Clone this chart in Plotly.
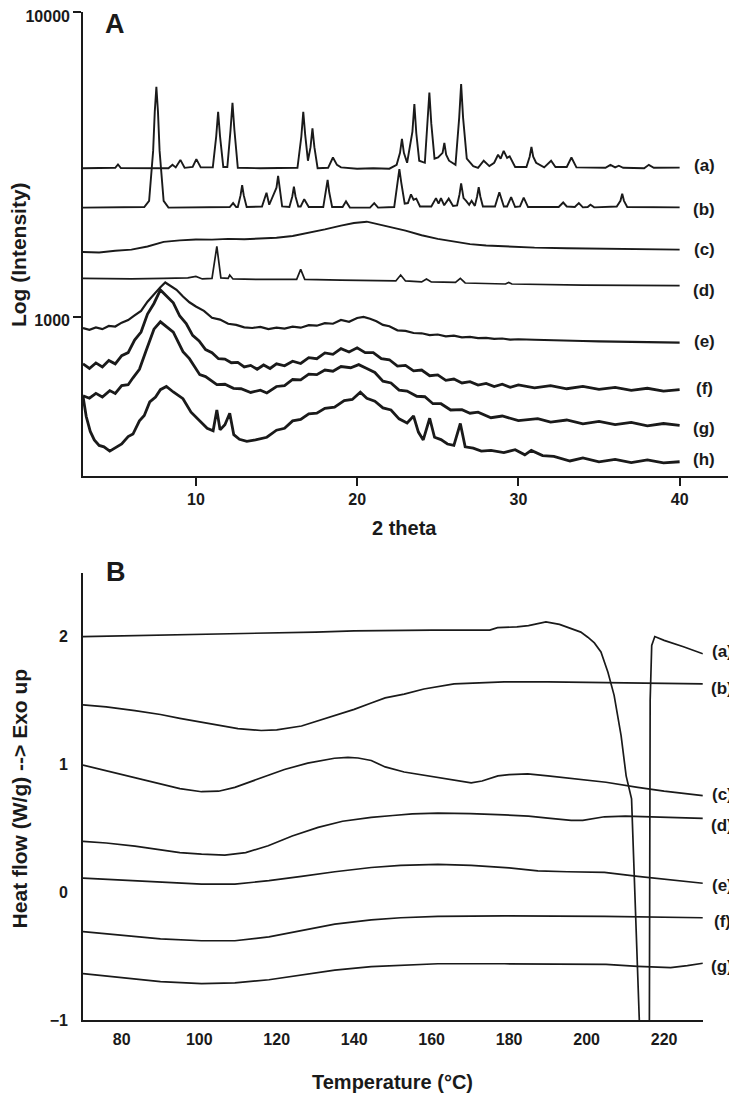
import plotly.graph_objects as go

# ---------------- Panel A: XRD (2 theta, intensity) ----------------
xrd_labels = ["(a)", "(b)", "(c)", "(d)", "(e)", "(f)", "(g)", "(h)"]

xrd_a = [(3.0, 3070), (5.0, 3080), (5.17, 3160), (5.35, 3075), (8.3, 3070), (8.55, 3150), (8.75, 3090),
         (9.04, 3270), (9.3, 3080), (9.8, 3100), (10.03, 3290), (10.3, 3090), (11.05, 3090), (11.26, 3900),
         (11.38, 4700), (11.5, 3900), (11.7, 3100), (11.95, 3100), (12.15, 4100), (12.27, 5030), (12.39, 4100),
         (12.6, 3080), (14.0, 3070), (16.3, 3080), (16.54, 3900), (16.66, 4700), (16.78, 3950), (16.95, 3250),
         (17.11, 3600), (17.23, 4150), (17.35, 3600), (17.55, 3070), (18.2, 3080), (18.5, 3330), (18.75, 3150),
         (19.0, 3090), (20.0, 3060), (21.0, 3070), (22.0, 3060), (22.45, 3150), (22.66, 3450), (22.78, 3830),
         (22.9, 3450), (23.1, 3200), (23.43, 4050), (23.55, 4990), (23.67, 4000), (23.85, 3250), (24.2, 3200),
         (24.36, 4300), (24.48, 5440), (24.6, 4300), (24.8, 3300), (25.02, 3330), (25.3, 3450), (25.41, 3720),
         (25.52, 3400), (25.7, 3250), (26.1, 3150), (26.33, 4500), (26.45, 5800), (26.57, 4500), (26.8, 3300),
         (27.2, 3120), (27.5, 3080), (27.85, 3250), (28.2, 3120), (28.5, 3200), (28.74, 3400), (28.9, 3300),
         (29.09, 3500), (29.3, 3320), (29.46, 3360), (29.8, 3100), (30.5, 3100), (30.7, 3350), (30.81, 3610),
         (30.92, 3350), (31.1, 3200), (31.6, 3090), (32.03, 3250), (32.3, 3100), (33.0, 3100), (33.29, 3330),
         (33.6, 3090), (35.4, 3080), (35.71, 3150), (36.0, 3090), (36.23, 3130), (36.5, 3080), (37.8, 3070),
         (38.09, 3150), (38.4, 3080), (40.0, 3085)]

xrd_b = [(3.0, 2280), (6.8, 2290), (7.1, 2400), (7.35, 3500), (7.45, 4700), (7.55, 5680), (7.65, 4700),
         (7.75, 3500), (8.0, 2400), (8.3, 2280), (12.1, 2290), (12.31, 2360), (12.5, 2290), (12.6, 2290),
         (12.77, 2500), (12.87, 2700), (12.97, 2500), (13.15, 2290), (14.1, 2300), (14.38, 2550), (14.55, 2330),
         (14.84, 2550), (15.0, 2650), (15.1, 2900), (15.2, 2650), (15.35, 2300), (15.8, 2290), (15.98, 2480),
         (16.08, 2670), (16.18, 2480), (16.35, 2300), (16.5, 2300), (16.72, 2430), (17.0, 2290), (17.9, 2290),
         (18.07, 2560), (18.17, 2810), (18.27, 2560), (18.45, 2290), (19.1, 2290), (19.31, 2390), (19.55, 2280),
         (20.8, 2280), (21.06, 2360), (21.3, 2280), (22.3, 2290), (22.5, 2750), (22.62, 3050), (22.74, 2750),
         (22.95, 2350), (23.15, 2360), (23.34, 2520), (23.5, 2420), (23.67, 2440), (23.9, 2300), (24.6, 2300),
         (24.89, 2450), (25.05, 2350), (25.2, 2450), (25.4, 2320), (25.68, 2440), (25.95, 2310), (26.2, 2320),
         (26.35, 2520), (26.45, 2740), (26.6, 2450), (26.76, 2400), (26.95, 2330), (27.1, 2400), (27.3, 2310),
         (27.44, 2480), (27.54, 2660), (27.64, 2480), (27.8, 2300), (28.55, 2300), (28.82, 2560), (29.1, 2300),
         (29.3, 2300), (29.55, 2470), (29.8, 2290), (30.1, 2300), (30.33, 2460), (30.6, 2290), (32.5, 2290),
         (32.78, 2370), (33.0, 2300), (33.5, 2290), (33.75, 2360), (34.0, 2285), (34.3, 2290), (34.47, 2330),
         (34.7, 2285), (36.1, 2300), (36.33, 2400), (36.44, 2530), (36.55, 2400), (36.75, 2290), (40.0, 2285)]

xrd_c = [(3.0, 1630), (4.0, 1625), (5.0, 1645), (6.0, 1660), (7.0, 1700), (8.0, 1760), (9.0, 1780),
         (10.0, 1792), (11.0, 1790), (12.0, 1800), (13.0, 1795), (14.0, 1805), (15.0, 1815), (16.0, 1840),
         (17.0, 1885), (18.0, 1935), (19.0, 1990), (19.8, 2030), (20.6, 2050), (21.4, 2010), (22.2, 1960),
         (23.0, 1915), (24.0, 1850), (25.0, 1800), (26.0, 1760), (27.0, 1730), (28.0, 1712), (29.0, 1700),
         (30.0, 1692), (31.0, 1685), (33.0, 1678), (35.0, 1672), (37.0, 1666), (40.0, 1660)]

xrd_d = [(3.0, 1335), (6.0, 1330), (8.0, 1335), (9.5, 1340), (10.0, 1355), (10.4, 1330), (11.0, 1335),
         (11.3, 1700), (11.55, 1340), (12.0, 1335), (12.1, 1370), (12.3, 1330), (14.0, 1325), (16.25, 1325),
         (16.5, 1430), (16.75, 1325), (19.0, 1318), (20.0, 1315), (22.4, 1310), (22.7, 1370), (23.0, 1310),
         (24.0, 1300), (24.3, 1330), (24.6, 1300), (26.1, 1295), (26.4, 1335), (26.7, 1290), (29.2, 1280),
         (29.4, 1295), (29.6, 1280), (34.0, 1270), (40.0, 1265)]

xrd_e = [(3.0, 918), (3.4, 906), (3.8, 922), (4.2, 910), (4.6, 932), (5.0, 928), (5.4, 956), (5.8, 975),
         (6.2, 1010), (6.6, 1045), (7.0, 1120), (7.4, 1185), (7.8, 1250), (8.1, 1295), (8.4, 1265), (8.8, 1225),
         (9.2, 1165), (9.6, 1115), (10.0, 1080), (10.5, 1045), (11.0, 992), (11.5, 978), (12.0, 948), (12.5, 940),
         (13.0, 922), (13.5, 918), (14.0, 926), (14.5, 910), (15.0, 920), (15.5, 914), (16.0, 928), (16.5, 920),
         (17.0, 938), (17.5, 934), (18.0, 952), (18.5, 948), (19.0, 975), (19.5, 962), (20.0, 990), (20.4, 998),
         (20.8, 984), (21.2, 966), (21.6, 940), (22.0, 930), (22.5, 902), (23.0, 898), (23.5, 884), (24.0, 882),
         (24.5, 870), (25.0, 874), (25.5, 862), (26.0, 866), (26.5, 855), (27.0, 858), (27.5, 850), (28.0, 852),
         (28.5, 845), (29.0, 848), (29.5, 841), (30.0, 843), (31.0, 840), (32.0, 836), (33.0, 834), (34.0, 832),
         (35.0, 830), (36.0, 828), (37.0, 826), (38.0, 825), (39.0, 823), (40.0, 822)]

xrd_f = [(3.0, 700), (3.4, 676), (3.8, 705), (4.2, 684), (4.6, 718), (5.0, 700), (5.4, 745), (5.8, 762),
         (6.2, 838), (6.6, 890), (7.0, 1020), (7.4, 1105), (7.8, 1224), (8.2, 1170), (8.6, 1110), (9.0, 1005),
         (9.4, 950), (9.8, 868), (10.2, 832), (10.6, 780), (11.0, 762), (11.4, 728), (11.8, 726), (12.2, 706),
         (12.6, 708), (13.0, 684), (13.4, 692), (13.8, 672), (14.2, 694), (14.6, 676), (15.0, 700), (15.5, 690),
         (16.0, 714), (16.5, 702), (17.0, 734), (17.5, 728), (18.0, 760), (18.5, 752), (19.0, 785), (19.5, 766),
         (20.0, 790), (20.5, 762), (21.0, 762), (21.5, 728), (22.0, 722), (22.5, 688), (23.0, 692), (23.5, 664),
         (24.0, 668), (24.5, 640), (25.0, 644), (25.5, 618), (26.0, 624), (26.5, 606), (27.0, 612), (27.5, 596),
         (28.0, 604), (28.5, 590), (29.0, 600), (29.5, 586), (30.0, 597), (31.0, 584), (32.0, 594), (33.0, 580),
         (34.0, 590), (35.0, 577), (36.0, 586), (37.0, 573), (38.0, 582), (39.0, 570), (40.0, 576)]

xrd_g = [(3.0, 550), (3.4, 540), (3.8, 560), (4.2, 545), (4.66, 572), (5.0, 560), (5.4, 594), (5.8, 598),
         (6.1, 630), (6.5, 672), (6.9, 770), (7.14, 830), (7.4, 910), (7.8, 962), (8.2, 928), (8.6, 890),
         (9.2, 768), (9.6, 728), (10.24, 645), (10.6, 636), (11.3, 598), (11.8, 600), (12.33, 582), (12.8, 580),
         (13.4, 564), (14.0, 574), (14.4, 562), (15.0, 590), (15.5, 594), (16.0, 622), (16.5, 620), (17.0, 648),
         (17.5, 645), (18.0, 668), (18.5, 662), (19.0, 686), (19.6, 680), (20.1, 696), (20.6, 676), (21.1, 656),
         (21.6, 614), (22.1, 606), (22.6, 574), (23.1, 570), (23.7, 548), (24.2, 546), (24.7, 518), (25.2, 518),
         (25.8, 494), (26.5, 495), (27.0, 482), (27.5, 486), (28.3, 466), (29.0, 472), (30.0, 456), (31.2, 463),
         (32.0, 451), (33.0, 458), (34.0, 445), (35.0, 453), (36.0, 442), (37.0, 450), (38.0, 438), (39.0, 446),
         (40.0, 440)]

xrd_h = [(3.0, 548), (3.2, 470), (3.45, 420), (3.7, 394), (4.0, 378), (4.3, 374), (4.66, 362), (5.0, 372),
         (5.4, 382), (5.8, 404), (6.1, 412), (6.5, 455), (6.8, 474), (7.14, 525), (7.5, 545), (7.8, 576),
         (8.17, 590), (8.6, 566), (9.2, 538), (9.7, 486), (10.24, 456), (10.7, 430), (11.07, 422), (11.3, 494),
         (11.5, 425), (11.8, 442), (12.1, 482), (12.35, 410), (12.7, 396), (13.16, 390), (13.7, 394), (14.4, 402),
         (15.0, 424), (15.5, 430), (16.0, 455), (16.5, 460), (17.0, 480), (17.5, 482), (18.0, 500), (18.6, 505),
         (19.2, 530), (19.7, 535), (20.2, 565), (20.6, 540), (21.1, 528), (21.6, 502), (22.1, 494), (22.6, 462),
         (23.1, 448), (23.5, 472), (23.8, 418), (24.1, 394), (24.5, 464), (24.8, 402), (25.2, 395), (25.6, 382),
         (26.0, 378), (26.4, 446), (26.7, 374), (27.2, 370), (27.7, 362), (28.3, 364), (29.1, 358), (29.8, 366),
         (30.4, 352), (30.8, 364), (31.5, 350), (32.2, 348), (33.2, 336), (34.0, 344), (35.0, 334), (36.0, 340),
         (37.0, 332), (38.0, 339), (39.0, 331), (40.0, 334)]

xrd_ticks_x = [10, 20, 30, 40]
xrd_ticks_y = [1000, 10000]

# ---------------- Panel B: DSC (temperature, heat flow) ----------------
dsc_labels = ["(a)", "(b)", "(c)", "(d)", "(e)", "(f)", "(g)"]

dsc_a = [(70, 2.0), (80, 2.005), (90, 2.01), (100, 2.015), (110, 2.02), (120, 2.03), (130, 2.035), (140, 2.045),
         (150, 2.05), (160, 2.05), (170, 2.05), (175, 2.05), (177, 2.07), (182, 2.075), (185, 2.085),
         (189.5, 2.115), (193, 2.095), (196, 2.06), (198.5, 2.035), (200.3, 1.995), (202, 1.95), (203.7, 1.88),
         (205.5, 1.72), (207.1, 1.54), (208.9, 1.225), (210.2, 0.91), (211.6, 0.73), (213.6, -1.0),
         (214.1, -1.4), (216.1, -1.4), (216.2, -1.0), (216.4, 1.5), (216.8, 1.93), (217.6, 2.0), (220, 1.97),
         (225, 1.92), (230, 1.865)]

dsc_b = [(70, 1.465), (76, 1.45), (83.4, 1.42), (90, 1.39), (95, 1.36), (100.6, 1.33), (105, 1.305), (110, 1.28),
         (116, 1.265), (120, 1.27), (126.4, 1.30), (130, 1.335), (134.9, 1.38), (140, 1.43), (144.4, 1.48),
         (148, 1.52), (152.9, 1.55), (158, 1.59), (165.8, 1.63), (172, 1.64), (178.7, 1.645), (190, 1.645),
         (204.5, 1.64), (215, 1.635), (230, 1.63)]

dsc_c = [(70, 0.995), (76, 0.95), (83.4, 0.90), (90, 0.85), (95, 0.81), (100.6, 0.786), (105, 0.79), (109.2, 0.82),
         (115, 0.885), (122, 0.96), (128, 1.01), (134.9, 1.048), (138.4, 1.055), (141, 1.05), (144.4, 1.03),
         (148, 0.98), (152.9, 0.94), (157, 0.92), (161.6, 0.90), (166, 0.875), (170.2, 0.855), (173, 0.87),
         (177.1, 0.91), (180, 0.92), (184.8, 0.925), (190, 0.91), (196, 0.89), (205, 0.86), (213.2, 0.82),
         (220, 0.79), (230, 0.755)]

dsc_d = [(70, 0.397), (76, 0.385), (83.4, 0.36), (90, 0.33), (95, 0.31), (100.6, 0.298), (106.6, 0.29), (112, 0.31),
         (117.8, 0.363), (124, 0.44), (130.7, 0.507), (137, 0.555), (144.4, 0.585), (150, 0.60), (155, 0.612),
         (161.6, 0.618), (170, 0.615), (178.8, 0.605), (185, 0.595), (190, 0.58), (194, 0.565), (196, 0.562),
         (199, 0.562), (202, 0.58), (204.6, 0.59), (210, 0.595), (215, 0.59), (222, 0.585), (230, 0.577)]

dsc_e = [(70, 0.11), (80, 0.095), (90, 0.075), (100.6, 0.063), (109.2, 0.063), (118, 0.09), (126.4, 0.123),
         (135, 0.16), (144.4, 0.193), (152, 0.21), (161.6, 0.217), (170.2, 0.21), (180, 0.19), (187.4, 0.167),
         (195, 0.16), (204.6, 0.155), (213.2, 0.123), (220, 0.1), (230, 0.07)]

dsc_f = [(70, -0.308), (80, -0.335), (90, -0.365), (100.6, -0.38), (109.2, -0.38), (118, -0.35), (126.4, -0.30),
         (135, -0.25), (144.4, -0.217), (152, -0.2), (161.6, -0.19), (178.8, -0.185), (204.6, -0.19),
         (215, -0.195), (230, -0.2)]

dsc_g = [(70, -0.637), (80, -0.67), (90, -0.70), (100.6, -0.716), (109.2, -0.71), (118, -0.685), (126.4, -0.648),
         (135, -0.61), (144.4, -0.582), (152, -0.57), (161.6, -0.56), (178.8, -0.56), (196, -0.562),
         (205, -0.565), (213.2, -0.58), (221.7, -0.59), (226, -0.575), (230, -0.556)]

dsc_ticks_x = [80, 100, 120, 140, 160, 180, 200, 220]
dsc_ticks_y = [-1, 0, 1, 2]

# ---------------- styling ----------------
FONT = "Arial, 'Liberation Sans', Helvetica, sans-serif"
INK = "#1a1a1a"

fig = go.Figure()

xrd_series = [xrd_a, xrd_b, xrd_c, xrd_d, xrd_e, xrd_f, xrd_g, xrd_h]
xrd_widths = [1.9, 1.9, 1.9, 1.7, 2.2, 2.8, 2.8, 2.8]
for lab, pts, w in zip(xrd_labels, xrd_series, xrd_widths):
    xs, ys = zip(*pts)
    fig.add_trace(go.Scatter(x=list(xs), y=list(ys), mode="lines", name=lab,
                             line=dict(color=INK, width=w), xaxis="x", yaxis="y",
                             showlegend=False, hoverinfo="skip"))

dsc_series = [dsc_a, dsc_b, dsc_c, dsc_d, dsc_e, dsc_f, dsc_g]
for lab, pts in zip(dsc_labels, dsc_series):
    xs, ys = zip(*pts)
    fig.add_trace(go.Scatter(x=list(xs), y=list(ys), mode="lines", name=lab,
                             line=dict(color=INK, width=1.7), xaxis="x2", yaxis="y2",
                             showlegend=False, hoverinfo="skip"))

tickfont = dict(family=FONT, size=16, color=INK, weight="bold")
axis_common = dict(showline=True, linecolor=INK, linewidth=1.7, showgrid=False, zeroline=False,
                   tickfont=tickfont, automargin=False, ticklabeloverflow="allow")

annotations = []
label_font = dict(family=FONT, size=17, color=INK, weight="bold")
xrd_label_y = [0.8475, 0.8036, 0.7639, 0.7242, 0.6729, 0.6260, 0.5873, 0.5556]
for lab, yy in zip(xrd_labels, xrd_label_y):
    annotations.append(dict(text=lab, xref="paper", yref="paper", x=0.963, y=yy, showarrow=False,
                            xanchor="center", yanchor="middle", font=label_font))
dsc_label_y = [0.3654, 0.3291, 0.2242, 0.1927, 0.1339, 0.0975, 0.0526]
for lab, yy in zip(dsc_labels, dsc_label_y):
    annotations.append(dict(text=lab, xref="paper", yref="paper", x=0.991, y=yy, showarrow=False,
                            xanchor="center", yanchor="middle", font=label_font))
letter_font = dict(family=FONT, size=27, color=INK, weight="bold")
annotations.append(dict(text="A", xref="paper", yref="paper", x=0.0496, y=0.988, showarrow=False,
                        xanchor="center", yanchor="middle", font=letter_font))
annotations.append(dict(text="B", xref="paper", yref="paper", x=0.051, y=0.444, showarrow=False,
                        xanchor="center", yanchor="middle", font=letter_font))
title_font = dict(family=FONT, size=20, color=INK, weight="bold")
annotations.append(dict(text="2 theta", xref="paper", yref="paper", x=0.498, y=0.488, showarrow=False,
                        xanchor="center", yanchor="middle", font=title_font))
annotations.append(dict(text="Temperature (°C)", xref="paper", yref="paper", x=0.4805, y=-0.0612,
                        showarrow=False, xanchor="center", yanchor="middle", font=title_font))
ytitle_font = dict(family=FONT, size=21, color=INK, weight="bold")
annotations.append(dict(text="Log (Intensity)", xref="paper", yref="paper", x=-0.099, y=0.759, textangle=-90,
                        showarrow=False, xanchor="center", yanchor="middle", font=ytitle_font))
annotations.append(dict(text="Heat flow (W/g) --> Exo up", xref="paper", yref="paper", x=-0.099, y=0.220,
                        textangle=-90, showarrow=False, xanchor="center", yanchor="middle", font=ytitle_font))

# The page body adds an 8 px offset, so the figure is 8 px smaller and the margins shifted.
fig.update_layout(
    template="none",
    width=729, height=1088,
    margin=dict(l=75, r=9, t=4, b=76, autoexpand=False),
    paper_bgcolor="white", plot_bgcolor="white",
    font=dict(family=FONT, color=INK),
    xaxis=dict(domain=[0, 1], range=[3, 43], anchor="y", tickvals=xrd_ticks_x,
               ticks="outside", ticklen=8, tickwidth=1.5, tickcolor=INK, **axis_common),
    yaxis=dict(domain=[0.5397, 1], type="log", range=[2.4771, 4], anchor="x", tickvals=xrd_ticks_y,
               ticktext=[str(v) for v in xrd_ticks_y], ticklabelshift=4,
               ticks="outside", ticklen=8, tickwidth=1.5, tickcolor=INK, **axis_common),
    xaxis2=dict(domain=[0, 0.961], range=[70, 230], anchor="y2", tickvals=dsc_ticks_x,
                ticks="", ticklabelstandoff=4, **axis_common),
    yaxis2=dict(domain=[0, 0.4438], range=[-1, 2.5], anchor="x2", tickvals=dsc_ticks_y,
                ticks="", ticklabelstandoff=10, **axis_common),
    annotations=annotations,
)

fig.write_html("out.html")
